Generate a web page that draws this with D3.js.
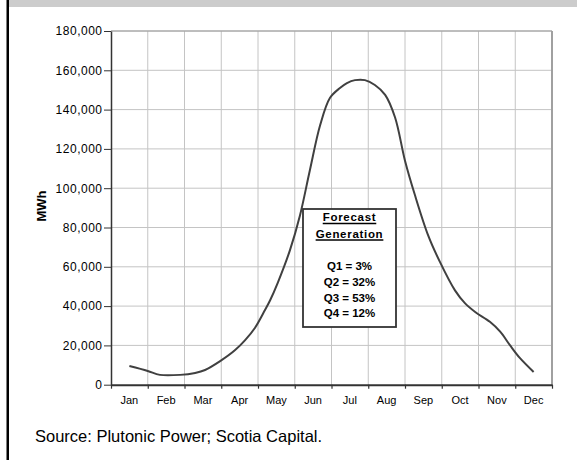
<!DOCTYPE html>
<html>
<head>
<meta charset="utf-8">
<script src="https://cdn.jsdelivr.net/npm/d3@7"></script>
<style>
  body { margin: 0; background: #fff; }
  svg { display: block; font-family: Arial, "Liberation Sans", sans-serif; }
</style>
</head>
<body>
<div id="container"></div>
<script>
const WIDTH = 577;
const HEIGHT = 460;
const PLOT = {left: 111, right: 552, top: 31, bottom: 384.7};
const FONT = "Arial, 'Liberation Sans', sans-serif";

var months = ["Jan", "Feb", "Mar", "Apr", "May", "Jun", "Jul", "Aug", "Sep", "Oct", "Nov", "Dec"];
var yTicks = [0, 20000, 40000, 60000, 80000, 100000, 120000, 140000, 160000, 180000];

// position along the year in months (Jan centre = 0.5) and MWh
var linePos = [0.5, 1.0, 1.33, 1.88, 2.29, 2.56, 2.97, 3.37, 3.65, 3.92, 4.19, 4.33, 4.54,
    4.87, 5.14, 5.41, 5.69, 5.96, 6.23, 6.42, 6.64, 6.91, 7.18, 7.46, 7.73, 8.0, 8.27,
    8.63, 8.95, 9.36, 9.63, 9.91, 10.31, 10.59, 10.86, 11.13, 11.5];
var lineMWh = [9500, 7000, 5000, 5000, 6000, 7500, 12000, 17500, 22700, 29000, 38000, 43000, 52000,
    68500, 86000, 109000, 132000, 146000, 151000, 153500, 155000, 155000, 152500, 147500, 136000, 114000, 96500,
    76000, 62500, 48000, 41500, 37000, 32000, 27000, 20000, 13500, 6500];

var boxTitle = ["Forecast", "Generation"];
var boxLines = ["Q1 = 3%", "Q2 = 32%", "Q3 = 53%", "Q4 = 12%"];
var source = "Source: Plutonic Power; Scotia Capital.";

var XBand = d3.scaleBand().domain(months).range([PLOT.left, PLOT.right]);
var XPos = d3.scaleLinear().domain([0, 12]).range([PLOT.left, PLOT.right]);
var YScale = d3.scaleLinear().domain([0, 180000]).range([PLOT.bottom, PLOT.top]);

var svg = d3.select("#container").append("svg")
    .attr("width", WIDTH)
    .attr("height", HEIGHT);

// frame bits: grey band on top and black bar down the left
svg.append("rect").attr("x", 9).attr("y", 0).attr("width", WIDTH - 9).attr("height", 7).attr("fill", "#cccccc");
svg.append("rect").attr("x", 6.5).attr("y", 0).attr("width", 2.5).attr("height", HEIGHT).attr("fill", "#000");

// gridlines
svg.append("g").selectAll("line").data(yTicks.slice(1)).enter().append("line")
    .attr("x1", PLOT.left).attr("x2", PLOT.right)
    .attr("y1", d => YScale(d)).attr("y2", d => YScale(d))
    .attr("stroke", "#c4c4c4").attr("stroke-width", 1);
svg.append("g").selectAll("line").data(d3.range(1, 12)).enter().append("line")
    .attr("x1", d => XPos(d)).attr("x2", d => XPos(d))
    .attr("y1", PLOT.top).attr("y2", PLOT.bottom)
    .attr("stroke", "#c4c4c4").attr("stroke-width", 1);
// plot border top/right
svg.append("line").attr("x1", PLOT.left).attr("x2", PLOT.right).attr("y1", PLOT.top).attr("y2", PLOT.top)
    .attr("stroke", "#999").attr("stroke-width", 1.2);
svg.append("line").attr("x1", PLOT.right).attr("x2", PLOT.right).attr("y1", PLOT.top).attr("y2", PLOT.bottom)
    .attr("stroke", "#a0a0a0").attr("stroke-width", 2);

// y axis
var yAxis = svg.append("g")
    .attr("transform", "translate(" + PLOT.left + ",0)")
    .call(d3.axisLeft(YScale).tickValues(yTicks).tickFormat(d3.format(",")).tickSize(7).tickSizeOuter(0).tickPadding(1.5));
yAxis.select(".domain").attr("stroke", "#333").attr("stroke-width", 1.5);
yAxis.selectAll(".tick line").attr("stroke", "#333");
yAxis.selectAll("text")
    .attr("font-size", 12).attr("fill", "#000").attr("font-family", FONT)
    .attr("letter-spacing", "0.5px");

// x axis: ticks on month boundaries, labels centred in months
var xTickAxis = svg.append("g")
    .attr("transform", "translate(0," + PLOT.bottom + ")")
    .call(d3.axisBottom(XPos).tickValues(d3.range(0, 13)).tickFormat("").tickSize(4).tickSizeOuter(0));
xTickAxis.select(".domain").attr("stroke", "#333").attr("stroke-width", 2);
xTickAxis.selectAll(".tick line").attr("stroke", "#333").attr("stroke-width", 1.2);

var xLabelAxis = svg.append("g")
    .attr("transform", "translate(0," + PLOT.bottom + ")")
    .call(d3.axisBottom(XBand).tickSize(0).tickPadding(12));
xLabelAxis.select(".domain").remove();
xLabelAxis.selectAll("text").attr("font-size", 11).attr("fill", "#000").attr("font-family", FONT);

// y title
svg.append("text")
    .attr("transform", "translate(45.5,206) rotate(-90)")
    .attr("text-anchor", "middle")
    .attr("font-size", 13).attr("font-weight", "bold")
    .text("MWh");

// generation curve
var LINE = d3.line()
    .x(d => XPos(d[0]))
    .y(d => YScale(d[1]))
    .curve(d3.curveCatmullRom);
svg.append("path")
    .datum(d3.zip(linePos, lineMWh))
    .attr("d", LINE)
    .attr("fill", "none")
    .attr("stroke", "#404040")
    .attr("stroke-width", 2);

// forecast box
var box = svg.append("g");
box.append("rect")
    .attr("x", 303).attr("y", 209).attr("width", 93).attr("height", 118)
    .attr("fill", "#fff").attr("stroke", "#333").attr("stroke-width", 1.8);
var cx = 349.5;
boxTitle.forEach(function (t, i) {
    var txt = box.append("text")
        .attr("x", cx).attr("y", 221 + i * 16.5)
        .attr("text-anchor", "middle")
        .attr("font-size", 11.5).attr("font-weight", "bold")
        .attr("letter-spacing", "0.7px")
        .text(t);
    var w = txt.node().getComputedTextLength();
    box.append("line")
        .attr("x1", cx - w / 2).attr("x2", cx + w / 2)
        .attr("y1", 223.5 + i * 16.5).attr("y2", 223.5 + i * 16.5)
        .attr("stroke", "#000").attr("stroke-width", 1.5);
});
box.selectAll("text.q").data(boxLines).enter().append("text")
    .attr("class", "q")
    .attr("x", cx).attr("y", (d, i) => 270 + i * 15.8)
    .attr("text-anchor", "middle")
    .attr("font-size", 11.5).attr("font-weight", "bold")
    .text(d => d);

// source note
svg.append("text")
    .attr("x", 35).attr("y", 442)
    .attr("font-size", 16.5)
    .text(source);
</script>
</body>
</html>
